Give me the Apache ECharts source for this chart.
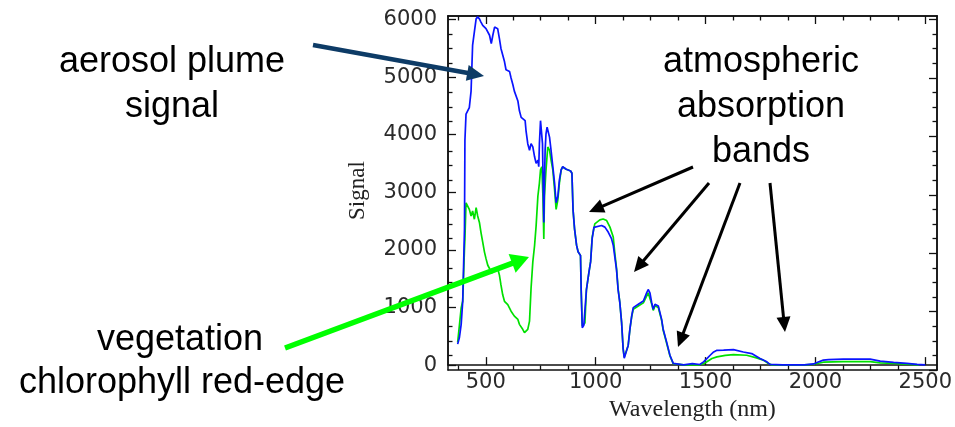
<!DOCTYPE html>
<html><head><meta charset="utf-8">
<script src="https://cdn.jsdelivr.net/npm/echarts@6/dist/echarts.min.js"></script>
<style>html,body{margin:0;padding:0;background:#fff}#c{width:955px;height:427px}</style>
</head><body><div id="c"></div>
<script>
// ---- data ----
const plumeWl = [372,380,388,395,403,405,410,425,433,440,448,456,463,471,478,486,494,501,509,517,525,532,540,547,554,562,569,577,585,592,608,615,623,630,638,646,653,661,668,679,683,691,699,706,714,722,729,737,741,744,749,755,758,761,764,767,770,774,779,785,790,797,805,813,820,828,835,843,850,866,886,892,897,904,913,920,928,931,934,939,946,951,958,969,977,984,992,1000,1027,1042,1057,1072,1080,1087,1095,1102,1110,1118,1125,1130,1141,1148,1156,1164,1171,1179,1194,1202,1217,1232,1239,1247,1255,1262,1270,1277,1285,1292,1300,1307,1323,1338,1353,1361,1400,1440,1474,1491,1506,1521,1537,1552,1582,1627,1672,1710,1748,1779,1793,1850,1950,1991,2010,2036,2060,2127,2249,2295,2356,2416,2462,2500];
const plumeSignal = [364,479,707,1107,2361,3900,4357,4470,4756,5555,5783,6010,6045,6010,5954,5897,5868,5840,5812,5726,5583,5726,5868,5868,5840,5669,5497,5383,5269,5127,5098,4984,4870,4756,4727,4585,4414,4300,4300,4243,4072,3844,3730,3844,3787,3616,3502,3559,3444,3844,4243,4272,3844,3160,2476,3160,3730,4015,4129,4158,3958,3730,3444,3160,2818,2931,3216,3388,3444,3400,3370,3330,2700,2361,2082,1967,1938,1904,1312,650,690,713,1312,1600,1791,2190,2390,2420,2424,2395,2310,2195,2082,1882,1654,1312,1083,741,286,120,257,342,628,855,997,1027,1055,1083,1112,1254,1312,1254,1083,969,1055,1027,1027,997,798,628,399,171,29,10,5,25,10,57,114,171,228,257,260,268,228,200,114,57,12,5,5,20,50,86,95,103,103,68,46,29,12,5];
const vegWl = [372,388,395,403,405,410,418,425,433,440,448,456,463,471,478,486,494,501,509,517,525,540,554,562,569,577,585,600,615,630,646,653,668,676,683,691,699,706,714,722,729,737,744,749,755,760,764,767,774,782,790,797,805,813,820,828,835,843,850,866,886,892,897,904,913,920,928,931,934,939,946,951,958,969,977,984,996,1019,1034,1050,1065,1080,1087,1095,1102,1110,1118,1125,1130,1141,1148,1156,1164,1171,1179,1194,1217,1239,1247,1255,1262,1270,1285,1292,1300,1307,1323,1338,1353,1361,1400,1474,1491,1506,1529,1552,1590,1627,1687,1732,1763,1786,1800,1950,1991,2036,2127,2249,2295,2356,2416,2470];
const vegSignal = [393,992,1112,2019,2190,2818,2818,2703,2589,2675,2532,2732,2589,2476,2304,2133,1962,1848,1733,1677,1591,1677,1677,1562,1391,1220,1107,1049,935,850,793,707,621,565,593,621,764,1334,1791,2076,2417,2931,3160,3388,3444,2931,2190,2931,3388,3787,3730,3559,3388,3045,2703,2874,3160,3388,3440,3400,3370,3330,2700,2361,2082,1967,1938,1904,1312,680,700,730,1312,1600,1800,2220,2452,2520,2537,2509,2395,2224,1950,1680,1330,1083,741,286,140,257,342,628,840,969,1000,1026,1080,1254,1220,1060,950,1030,1000,970,780,610,380,160,25,8,3,5,25,57,114,142,170,182,171,125,86,29,5,5,15,50,60,60,40,30,18,5];
const xMajorTicks = [500,1000,1500,2000,2500];
const xMinorTicks = [375,625,750,875,1125,1250,1375,1625,1750,1875,2125,2250,2375];
const yMajorTicks = [0,1000,2000,3000,4000,5000,6000];
const yMinorTicks = [250,500,750,1250,1500,1750,2250,2500,2750,3250,3500,3750,4250,4500,4750,5250,5500,5750];
const xTitle = 'Wavelength (nm)';
const yTitle = 'Signal';

// ---- layout / style ----
const X_MIN = 328, X_MAX = 2553, Y_MIN = 0, Y_MAX = 6060;
const GRID = {left: 448, top: 16, right: 18, bottom: 57};
const AX = {color: '#111', width: 1.5};
const LABEL = {color: '#2a2a2a', fontFamily: 'DejaVu Sans', fontSize: 21};

function pairs(xs, ys){ return xs.map((x,i)=>[x, ys[i]]); }

function xAx(gi, pos, ticks, len, labels, extra){
  return Object.assign({
    type:'value', gridIndex: gi, position: pos, min: X_MIN, max: X_MAX,
    axisLine:{show: true, onZero:false, lineStyle:{color:AX.color, width:AX.width}},
    axisTick:{show:true, inside:true, length:len, customValues:ticks, lineStyle:{color:AX.color, width:1.3}},
    axisLabel:{show: labels, customValues:ticks, formatter:v=>String(v), margin:7, color:LABEL.color, fontFamily:LABEL.fontFamily, fontSize:LABEL.fontSize},
    splitLine:{show:false}
  }, extra||{});
}
function yAx(gi, pos, ticks, len, labels, extra){
  return Object.assign({
    type:'value', gridIndex: gi, position: pos, min: Y_MIN, max: Y_MAX,
    axisLine:{show: true, onZero:false, lineStyle:{color:AX.color, width:AX.width}},
    axisTick:{show:true, inside:true, length:len, customValues:ticks, lineStyle:{color:AX.color, width:1.3}},
    axisLabel:{show: labels, customValues:ticks, formatter:v=>String(v), margin:11, color:LABEL.color, fontFamily:LABEL.fontFamily, fontSize:LABEL.fontSize},
    splitLine:{show:false}
  }, extra||{});
}

// annotations (pixel layout)
const TXT_FONT = '36px "Liberation Sans", Arial, sans-serif';
const texts = [
  ['aerosol plume', 172, 62], ['signal', 172, 107],
  ['atmospheric', 761, 62], ['absorption', 761, 107], ['bands', 761, 152],
  ['vegetation', 180, 340], ['chlorophyll red-edge', 182, 383]
];
const arrows = [
  {from:[313,45], to:[484,76], w:4.5, hl:17, hw:16, c:'#0d3b66'},
  {from:[285,348], to:[529,257], w:5.5, hl:18, hw:20, c:'#00ff00'},
  {from:[693,167], to:[589,212], w:3, hl:15, hw:14, c:'#000'},
  {from:[709,183], to:[634,272], w:3, hl:15, hw:14, c:'#000'},
  {from:[740,183], to:[678,347], w:3, hl:15, hw:14, c:'#000'},
  {from:[770,183], to:[785,332], w:3, hl:15, hw:14, c:'#000'}
];
function arrowEls(a){
  const [x1,y1]=a.from, [x2,y2]=a.to;
  const dx=x2-x1, dy=y2-y1, L=Math.hypot(dx,dy), ux=dx/L, uy=dy/L;
  const bx=x2-ux*a.hl, by=y2-uy*a.hl, px=-uy, py=ux;
  return [
    {type:'line', shape:{x1:x1,y1:y1,x2:bx+ux*2,y2:by+uy*2}, style:{stroke:a.c, lineWidth:a.w}, z:100},
    {type:'polygon', shape:{points:[[x2,y2],[bx+px*a.hw/2,by+py*a.hw/2],[bx-px*a.hw/2,by-py*a.hw/2]]}, style:{fill:a.c}, z:100}
  ];
}
const graphics = [];
texts.forEach(t=>graphics.push({type:'text', x:t[1], y:t[2], z:100, style:{text:t[0], font:TXT_FONT, fill:'#000', textAlign:'center', textVerticalAlign:'middle'}}));
arrows.forEach(a=>arrowEls(a).forEach(e=>graphics.push(e)));

const grids = [0,1,2,3].map(()=>Object.assign({containLabel:false}, GRID));
const option = {
  animation:false,
  backgroundColor:'#fff',
  grid: grids,
  xAxis:[
    xAx(0,'bottom',xMajorTicks,8,true,{name:xTitle, nameLocation:'middle', nameGap:28,
      nameTextStyle:{fontFamily:'Liberation Serif', fontSize:24, color:'#222'}}),
    xAx(1,'top',xMajorTicks,8,false),
    xAx(2,'bottom',xMinorTicks,4.5,false),
    xAx(3,'top',xMinorTicks,4.5,false)
  ],
  yAxis:[
    yAx(0,'left',yMajorTicks,8,true,{name:yTitle, nameLocation:'middle', nameGap:79, nameRotate:90,
      nameTextStyle:{fontFamily:'Liberation Serif', fontSize:23, color:'#222'}}),
    yAx(1,'right',yMajorTicks,8,false),
    yAx(2,'left',yMinorTicks,4.5,false),
    yAx(3,'right',yMinorTicks,4.5,false)
  ],
  series:[
    {name:'vegetation', type:'line', xAxisIndex:0, yAxisIndex:0, data:pairs(vegWl, vegSignal), showSymbol:false, symbol:'none',
      lineStyle:{color:'#00e000', width:1.7}, z:2},
    {name:'aerosol plume', type:'line', xAxisIndex:0, yAxisIndex:0, data:pairs(plumeWl, plumeSignal), showSymbol:false, symbol:'none',
      lineStyle:{color:'#0a14ff', width:1.7}, z:3}
  ],
  graphic: graphics
};
const chart = echarts.init(document.getElementById('c'), null, {renderer:'canvas'});
chart.setOption(option);
</script></body></html>
